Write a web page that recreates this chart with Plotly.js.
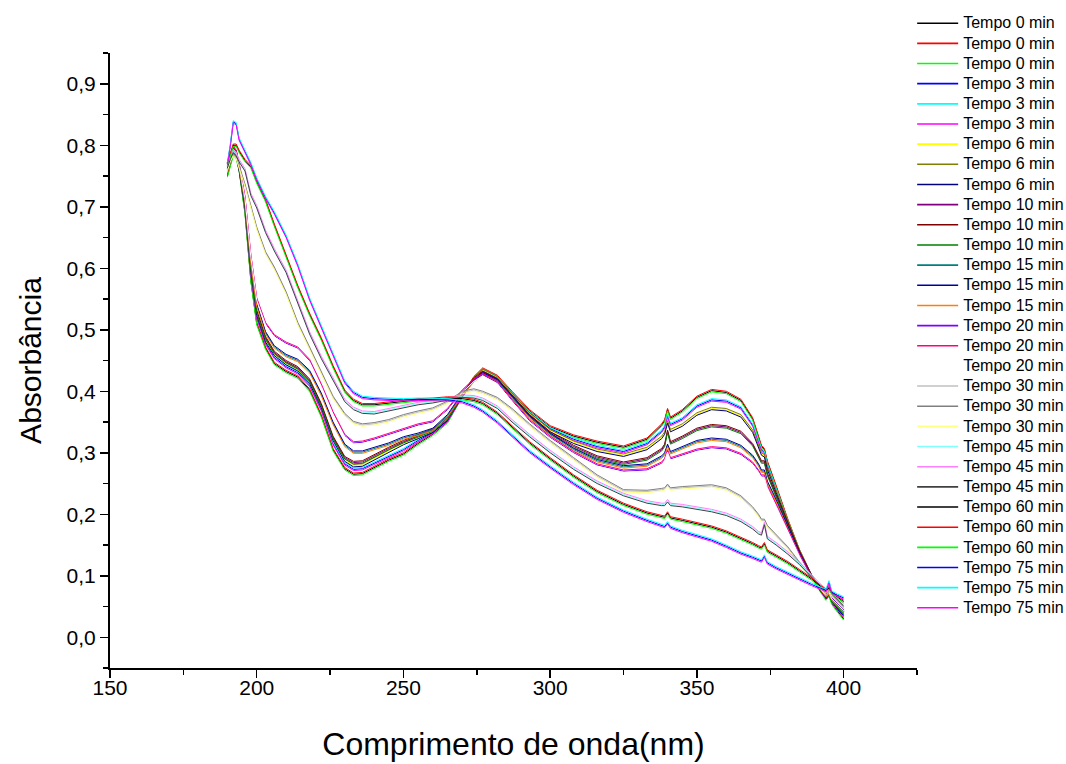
<!DOCTYPE html>
<html>
<head>
<meta charset="utf-8">
<script src="https://cdn.plot.ly/plotly-3.0.1.min.js"></script>
<style>
html,body{margin:0;padding:0;background:#fff;}
#chart{width:1066px;height:764px;}
#chart .legend .legendtext{font-size:16px !important;}
#chart .legend .scrollbox{clip-path:none !important;}
#chart .legend{clip-path:none !important;}
#chart .legend .legendlines path{stroke-width:1.6px !important;}
</style>
</head>
<body>
<div id="chart"></div>
<script>
// Wavelength grid (nm)
const wavelength = [190,191,192,193,194,196,198,200,203,206,210,214,218,222,226,230,233,236,240,245,250,255,260,265,270,274,277,282,287,293,300,308,316,325,333,338,339,340,341,345,350,355,360,365,369,371,372,373,374,377,381,385,389,392,394,395,396,398,400];

// Absorbance, one array per time
const abs0min  = [0.75,0.77,0.785,0.78,0.76,0.69,0.58,0.51,0.47,0.445,0.432,0.423,0.402,0.36,0.305,0.274,0.265,0.266,0.276,0.288,0.298,0.315,0.33,0.35,0.392,0.422,0.436,0.424,0.398,0.368,0.342,0.327,0.317,0.309,0.322,0.345,0.352,0.37,0.356,0.368,0.39,0.401,0.398,0.385,0.355,0.325,0.31,0.305,0.285,0.245,0.19,0.14,0.1,0.076,0.062,0.068,0.055,0.042,0.03];
const abs3min  = [0.76,0.78,0.80,0.79,0.765,0.70,0.59,0.52,0.478,0.455,0.44,0.43,0.41,0.37,0.315,0.282,0.273,0.274,0.283,0.295,0.305,0.32,0.333,0.352,0.392,0.419,0.432,0.422,0.396,0.365,0.339,0.322,0.31,0.302,0.315,0.335,0.342,0.36,0.346,0.355,0.376,0.386,0.384,0.373,0.345,0.318,0.305,0.3,0.28,0.24,0.188,0.14,0.1,0.077,0.065,0.085,0.058,0.045,0.035];
const abs6min  = [0.76,0.775,0.79,0.785,0.76,0.70,0.595,0.525,0.482,0.46,0.445,0.435,0.415,0.375,0.322,0.288,0.279,0.28,0.29,0.302,0.315,0.325,0.335,0.355,0.393,0.421,0.434,0.422,0.395,0.363,0.336,0.317,0.304,0.296,0.307,0.325,0.332,0.35,0.336,0.345,0.363,0.372,0.37,0.36,0.335,0.31,0.298,0.295,0.275,0.237,0.187,0.14,0.1,0.078,0.066,0.072,0.06,0.048,0.038];
const abs10min = [0.765,0.78,0.795,0.79,0.765,0.705,0.60,0.53,0.487,0.463,0.448,0.438,0.418,0.378,0.325,0.292,0.284,0.285,0.295,0.307,0.318,0.327,0.337,0.356,0.393,0.42,0.431,0.419,0.392,0.36,0.332,0.31,0.293,0.283,0.29,0.305,0.312,0.335,0.316,0.325,0.338,0.344,0.342,0.333,0.313,0.295,0.285,0.285,0.265,0.23,0.183,0.138,0.1,0.078,0.067,0.07,0.06,0.05,0.04];
const abs15min = [0.77,0.78,0.79,0.785,0.765,0.71,0.61,0.54,0.495,0.472,0.458,0.45,0.432,0.395,0.348,0.312,0.301,0.301,0.307,0.314,0.324,0.33,0.338,0.36,0.395,0.417,0.428,0.417,0.39,0.358,0.33,0.305,0.287,0.277,0.28,0.293,0.298,0.312,0.3,0.308,0.318,0.322,0.32,0.31,0.294,0.28,0.27,0.27,0.252,0.222,0.178,0.135,0.098,0.079,0.068,0.072,0.062,0.052,0.042];
const abs20min = [0.77,0.785,0.795,0.79,0.77,0.715,0.62,0.55,0.51,0.49,0.478,0.47,0.45,0.41,0.365,0.328,0.316,0.317,0.322,0.33,0.338,0.345,0.35,0.37,0.40,0.418,0.427,0.414,0.385,0.352,0.325,0.30,0.28,0.27,0.272,0.283,0.289,0.303,0.29,0.296,0.304,0.308,0.306,0.297,0.283,0.27,0.262,0.262,0.245,0.215,0.173,0.133,0.097,0.08,0.07,0.075,0.064,0.055,0.045];
const abs30min = [0.76,0.775,0.785,0.78,0.765,0.735,0.70,0.665,0.625,0.60,0.56,0.51,0.47,0.43,0.39,0.362,0.349,0.345,0.347,0.352,0.36,0.366,0.371,0.382,0.398,0.402,0.398,0.388,0.37,0.345,0.318,0.29,0.262,0.238,0.237,0.24,0.241,0.247,0.241,0.243,0.245,0.246,0.241,0.228,0.21,0.198,0.19,0.19,0.18,0.165,0.145,0.12,0.096,0.082,0.073,0.078,0.068,0.058,0.048];
const abs45min = [0.765,0.78,0.79,0.785,0.775,0.76,0.72,0.70,0.66,0.63,0.595,0.545,0.495,0.455,0.42,0.385,0.372,0.366,0.365,0.37,0.376,0.38,0.383,0.387,0.392,0.391,0.387,0.374,0.352,0.328,0.302,0.275,0.252,0.232,0.22,0.216,0.216,0.222,0.216,0.214,0.21,0.206,0.20,0.19,0.178,0.17,0.168,0.185,0.162,0.152,0.137,0.12,0.10,0.085,0.077,0.08,0.072,0.062,0.053];
const abs60min = [0.77,0.785,0.80,0.80,0.79,0.775,0.765,0.74,0.71,0.67,0.62,0.57,0.525,0.485,0.44,0.40,0.385,0.378,0.378,0.381,0.384,0.386,0.387,0.389,0.388,0.385,0.38,0.364,0.342,0.316,0.29,0.262,0.237,0.216,0.202,0.196,0.195,0.202,0.194,0.19,0.185,0.179,0.171,0.161,0.152,0.147,0.145,0.152,0.14,0.132,0.121,0.108,0.095,0.083,0.076,0.08,0.072,0.065,0.058];
const abs75min = [0.77,0.80,0.838,0.835,0.81,0.79,0.77,0.745,0.715,0.69,0.652,0.605,0.55,0.505,0.46,0.415,0.398,0.39,0.388,0.387,0.386,0.387,0.387,0.386,0.383,0.376,0.368,0.35,0.328,0.302,0.277,0.25,0.226,0.205,0.19,0.181,0.18,0.186,0.179,0.172,0.165,0.158,0.148,0.137,0.13,0.126,0.124,0.132,0.121,0.113,0.104,0.094,0.086,0.08,0.076,0.09,0.073,0.068,0.064];

// Legend labels, colours and small replicate shifts
const seriesNames = ["Tempo 0 min","Tempo 0 min","Tempo 0 min","Tempo 3 min","Tempo 3 min","Tempo 3 min","Tempo 6 min","Tempo 6 min","Tempo 6 min","Tempo 10 min","Tempo 10 min","Tempo 10 min","Tempo 15 min","Tempo 15 min","Tempo 15 min","Tempo 20 min","Tempo 20 min","Tempo 20 min","Tempo 30 min","Tempo 30 min","Tempo 30 min","Tempo 45 min","Tempo 45 min","Tempo 45 min","Tempo 60 min","Tempo 60 min","Tempo 60 min","Tempo 75 min","Tempo 75 min","Tempo 75 min"];
const seriesColors = ["#000000","#FF0000","#00FF00","#0000FF","#00FFFF","#FF00FF","#FFFF00","#808000","#000080","#800080","#800000","#008000","#008080","#0000A0","#FF8000","#8000FF","#FF0080","#FFFFFF","#C0C0C0","#808080","#FFFF80","#80FFFF","#FF80FF","#404040","#000000","#FF0000","#00FF00","#0000FF","#00FFFF","#FF00FF"];
const replicateShift = [0.000,0.002,-0.002];
const timeSeries = [abs0min,abs3min,abs6min,abs10min,abs15min,abs20min,abs30min,abs45min,abs60min,abs75min];

const traces = [];
for (let i = 0; i < seriesNames.length; i++) {
  const base = timeSeries[Math.floor(i/3)];
  const sh = replicateShift[i%3];
  traces.push({
    type: 'scatter', mode: 'lines',
    x: wavelength,
    y: base.map(v => +(v + sh).toFixed(4)),
    name: seriesNames[i],
    line: {color: seriesColors[i], width: 1},
    hoverinfo: 'skip'
  });
}

const fontFam = 'Liberation Sans, Arial, sans-serif';
const layout = {
  width: 1066, height: 764,
  paper_bgcolor: '#fff', plot_bgcolor: '#fff',
  separators: ', ',
  margin: {l: 110, r: 149, t: 53, b: 96, autoexpand: false},
  font: {family: fontFam, color: '#000'},
  showlegend: true,
  legend: {
    x: 0.994, xanchor: 'left', y: 1.073, yanchor: 'top',
    font: {family: fontFam, size: 13.2, color: '#000'},
    bgcolor: 'rgba(0,0,0,0)', borderwidth: 0,
    itemwidth: 41, maxheight: 740,
    tracegroupgap: 0
  },
  xaxis: {
    range: [150, 425], tick0: 150, dtick: 50,
    showline: true, linecolor: '#000', linewidth: 2,
    ticks: 'outside', ticklen: 8, tickwidth: 1.5, tickcolor: '#000',
    ticklabelstandoff: -8,
    minor: {dtick: 25, ticks: 'outside', ticklen: 5, tickwidth: 1.5, tickcolor: '#000', showgrid: false},
    showgrid: false, zeroline: false,
    tickfont: {family: fontFam, size: 21, color: '#000'},
    title: {text: 'Comprimento de onda(nm)', font: {family: fontFam, size: 32, color: '#000'}, standoff: 34}
  },
  yaxis: {
    range: [-0.05, 0.95], tick0: 0, dtick: 0.1, tickformat: '.1f',
    showline: true, linecolor: '#000', linewidth: 2,
    ticks: 'outside', ticklen: 8, tickwidth: 1.5, tickcolor: '#000',
    minor: {dtick: 0.05, tick0: 0, ticks: 'outside', ticklen: 5, tickwidth: 1.5, tickcolor: '#000', showgrid: false},
    showgrid: false, zeroline: false,
    tickfont: {family: fontFam, size: 21, color: '#000'},
    title: {text: 'Absorbância', font: {family: fontFam, size: 30, color: '#000'}, standoff: 16}
  }
};

Plotly.newPlot('chart', traces, layout, {staticPlot: true, displayModeBar: false});
</script>
</body>
</html>
